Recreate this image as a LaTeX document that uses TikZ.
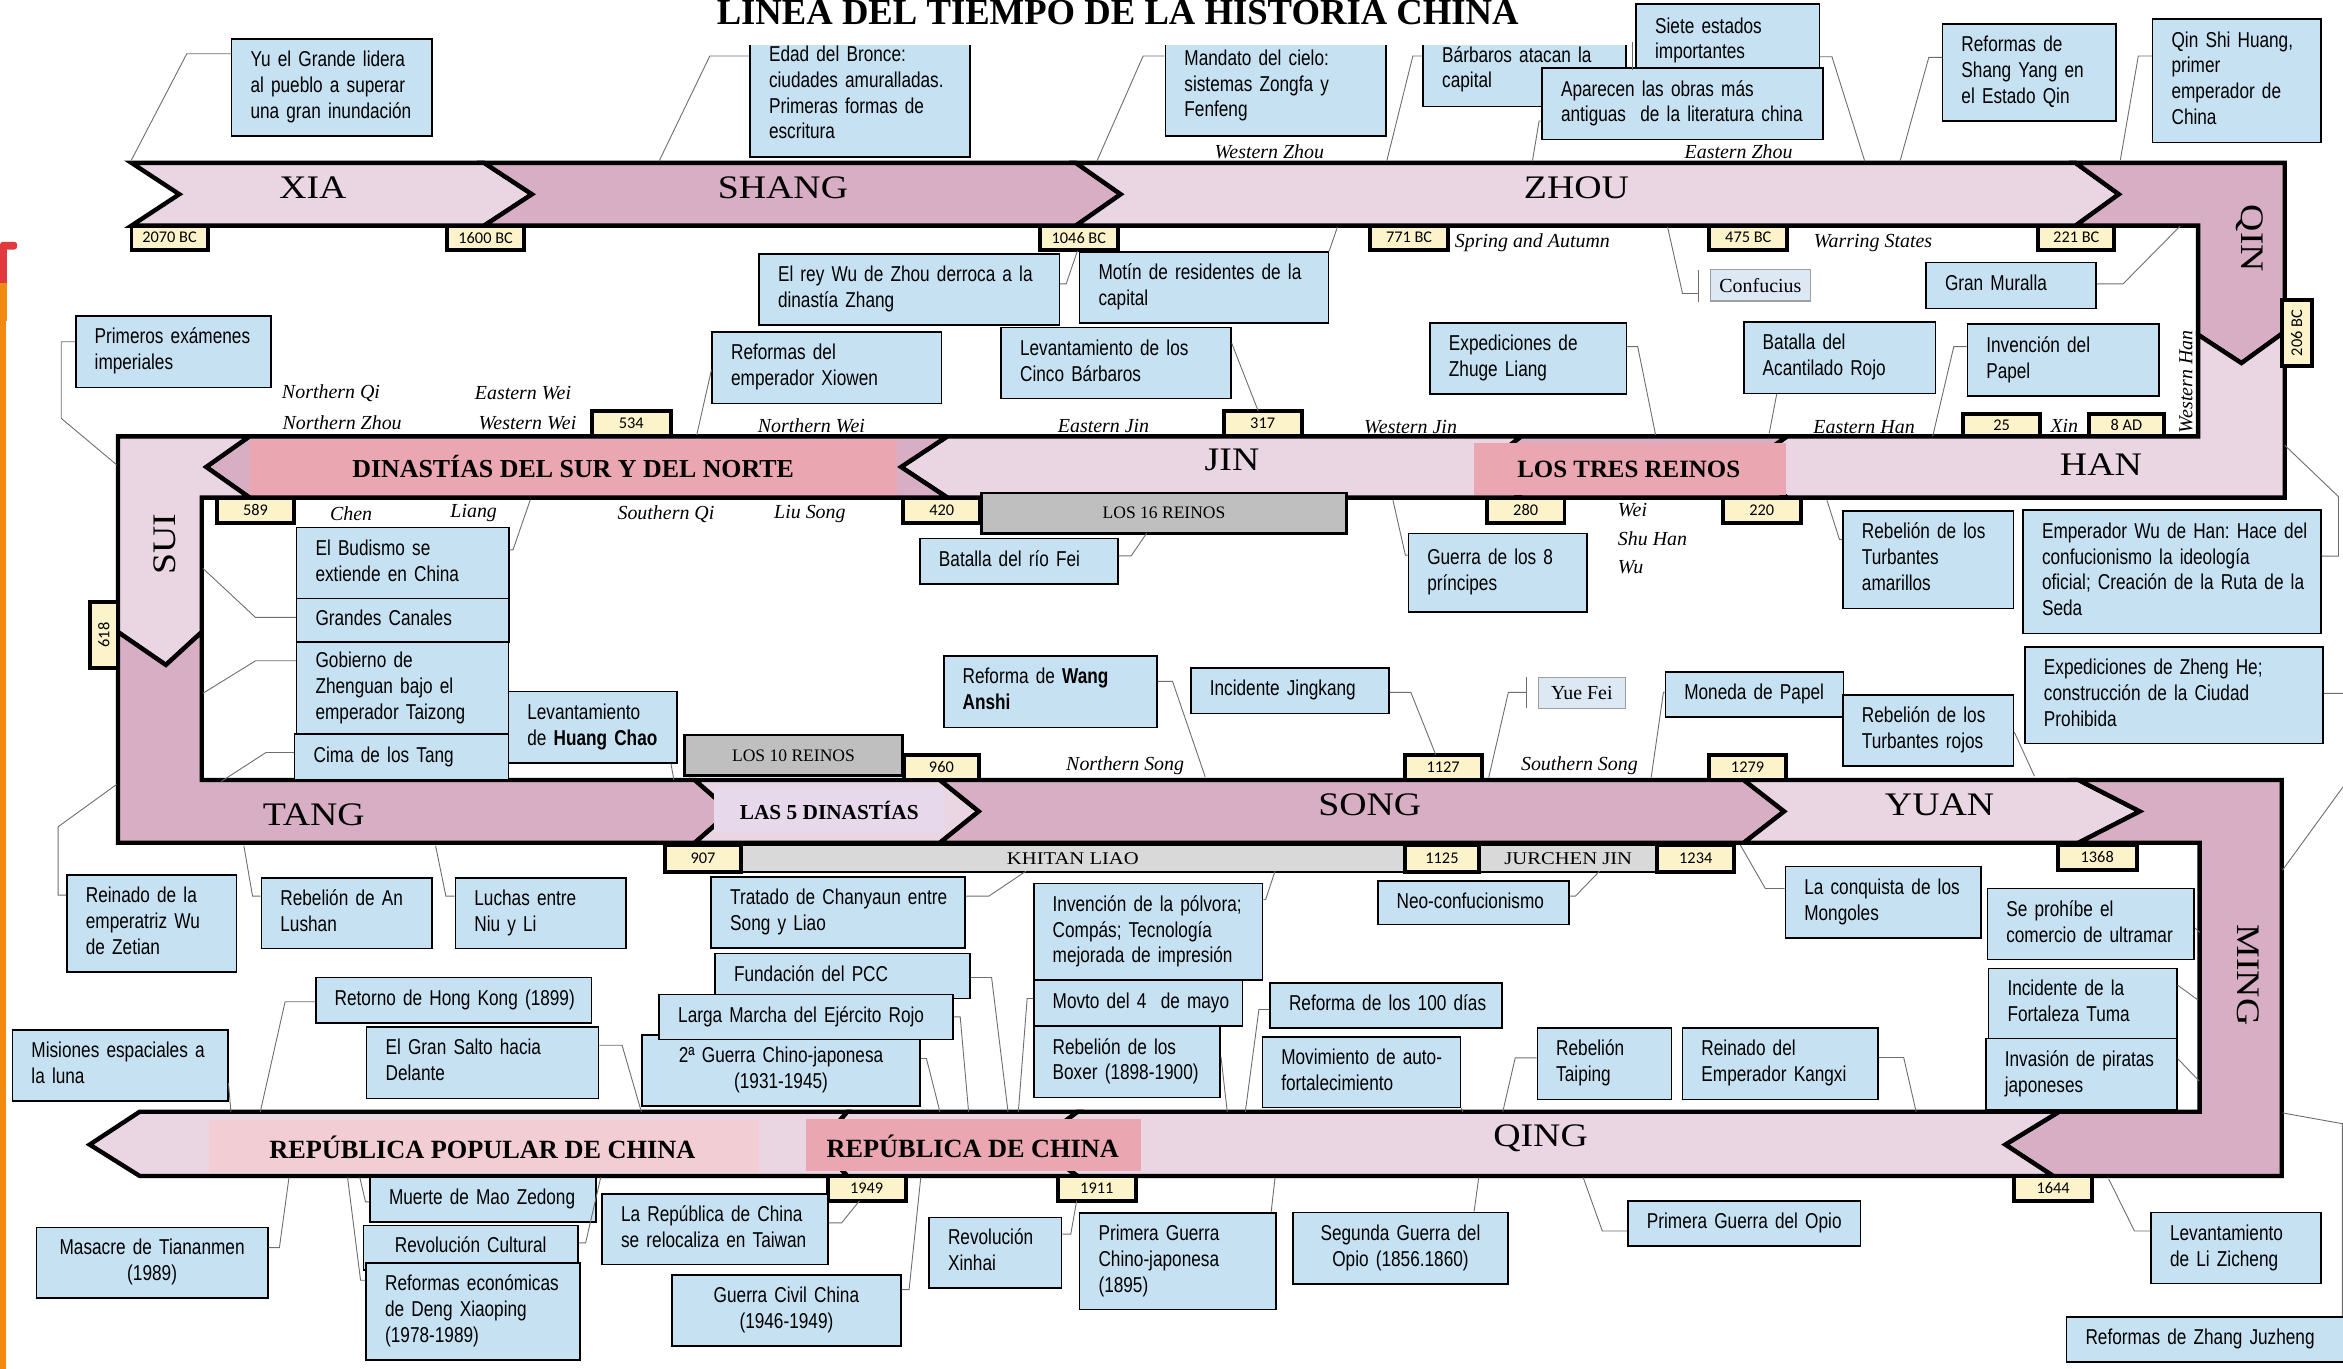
\documentclass[tikz,border=0pt]{standalone}
\usepackage{fontspec}
\usepackage{graphicx}
\setmainfont{Liberation Serif}
\newfontfamily\boxf[FakeStretch=0.8]{Liberation Sans}
\newfontfamily\datef{Carlito}
\newfontfamily\dynf[FakeStretch=1.15]{Liberation Serif}
\frenchspacing
\definecolor{bandlight}{HTML}{EAD6E2}
\definecolor{banddark}{HTML}{D8AEC4}
\definecolor{pinklab}{HTML}{EAA6B1}
\definecolor{pinklight}{HTML}{F2CDD4}
\definecolor{lav}{HTML}{E8D8EC}
\definecolor{evblue}{HTML}{C5E1F2}
\definecolor{paleblue}{HTML}{DDE8F5}
\definecolor{dateyel}{HTML}{FDF3CB}
\definecolor{greyA}{HTML}{BFBFBF}
\definecolor{greyB}{HTML}{D9D9D9}
\definecolor{conn}{HTML}{6E6E6E}
\definecolor{barred}{HTML}{E0393E}
\definecolor{barorange}{HTML}{F28A12}
\tikzset{
 bandL/.style={fill=bandlight, draw=black, line width=2.2pt},
 bandD/.style={fill=banddark, draw=black, line width=2.2pt},
 evbox/.style={draw=black, line width=0.8pt, fill=evblue, inner xsep=9.5pt, inner ysep=0pt, font=\boxf\fontsize{10.8}{13}\selectfont\frenchspacing},
 palebox/.style={draw=gray!75, line width=0.6pt, fill=paleblue, inner sep=0pt, font=\fontsize{10}{12}\selectfont},
 datebox/.style={draw=black, line width=2pt, fill=dateyel, inner sep=0pt, font=\datef\fontsize{8.2}{9}\selectfont},
 greybox/.style={draw=black, line width=1.3pt, fill=greyA, inner sep=0pt, font=\fontsize{8.8}{10}\selectfont},
 barbox/.style={draw=black, line width=1.3pt, fill=greyB, inner sep=0pt, font=\dynf\fontsize{9}{10}\selectfont},
 dyn/.style={font=\dynf\fontsize{16.5}{17}\selectfont, inner sep=0pt},
 boldlab/.style={font=\bfseries\fontsize{13}{14}\selectfont, inner sep=0pt},
 itl/.style={font=\itshape\fontsize{10}{11}\selectfont, inner sep=0pt},
 con/.style={draw=conn, line width=0.45pt},
}
\newcommand\evB[6]{%
 \pgfmathsetmacro\evw{(#4-#2)*0.75}\pgfmathsetmacro\evh{(#5-#3)*0.75}\pgfmathsetmacro\evt{\evw-19}%
 \node[evbox, minimum width=\evw pt, minimum height=\evh pt, text width=\evt pt, align=left] (#1) at ({(#2+#4)/2},{(#3+#5)/2}) {\noindent\begin{tabular}{@{}l@{}}#6\end{tabular}};}
\newcommand\evC[6]{%
 \pgfmathsetmacro\evw{(#4-#2)*0.75}\pgfmathsetmacro\evh{(#5-#3)*0.75}\pgfmathsetmacro\evt{\evw-19}%
 \node[evbox, minimum width=\evw pt, minimum height=\evh pt, text width=\evt pt, align=center] (#1) at ({(#2+#4)/2},{(#3+#5)/2}) {\begin{tabular}{@{}c@{}}#6\end{tabular}};}
\newcommand\rbX[7]{%
 \pgfmathsetmacro\rw{(#5-#3)*0.75}\pgfmathsetmacro\rh{(#6-#4)*0.75}%
 \node[#1, minimum width=\rw pt, minimum height=\rh pt] (#2) at ({(#3+#5)/2},{(#4+#6)/2}) {#7};}
\begin{document}
\begin{tikzpicture}[x=0.75pt,y=-0.75pt]
\useasboundingbox (0,0) rectangle (1568,916);
\fill[white] (0,0) rectangle (1568,916);
\clip (0,0) rectangle (1568,916);
% left edge bar
\fill[barred, rounded corners=1.5] (0,161.8) rectangle (11.5,167);
\fill[barred] (0,165) rectangle (4.6,189.6);
\fill[barorange] (0,189.6) rectangle (5,215);
\fill[barorange] (0,215) rectangle (3.8,916);
% ===== connectors =====
\begin{scope}[con]
\draw (155,36) -- (125,36) -- (88,107);
\end{scope}
% ===== bands =====
\filldraw[bandL] (88,109) -- (324,109) -- (356,130) -- (324,151) -- (88,151) -- (120,130) -- cycle;
\filldraw[bandD] (324,109) -- (720,109) -- (750,130) -- (720,151) -- (324,151) -- (356,130) -- cycle;
\filldraw[bandL] (720,109) -- (1389,109) -- (1418,130) -- (1389,151) -- (720,151) -- (750,130) -- cycle;
\filldraw[bandD] (1389,109) -- (1529,109) -- (1529,222) -- (1500,243) -- (1471,224) -- (1471,151) -- (1389,151) -- (1418,130) -- cycle;
\filldraw[bandL] (1471,224) -- (1500,243) -- (1529,222) -- (1529,333) -- (1196,333) -- (1167,312.5) -- (1196,292) -- (1471,292) -- cycle;
\filldraw[bandD] (1018,292) -- (1196,292) -- (1167,312.5) -- (1196,333) -- (1018,333) -- (992,312.5) -- cycle;
\filldraw[bandL] (634,292) -- (1018,292) -- (992,312.5) -- (1018,333) -- (634,333) -- (603,312.5) -- cycle;
\filldraw[bandD] (167,292) -- (634,292) -- (603,312.5) -- (634,333) -- (167,333) -- (138,312.5) -- cycle;
\filldraw[bandL] (79,292) -- (167,292) -- (138,312.5) -- (167,333) -- (135,333) -- (135,423) -- (111,445) -- (79,423) -- cycle;
\filldraw[bandD] (79,423) -- (111,445) -- (135,423) -- (135,522) -- (465,522) -- (489,543) -- (465,564) -- (79,564) -- cycle;
\filldraw[bandL] (465,522) -- (629,522) -- (655,543) -- (629,564) -- (465,564) -- (489,543) -- cycle;
\filldraw[bandD] (629,522) -- (1167,522) -- (1194,543) -- (1167,564) -- (629,564) -- (655,543) -- cycle;
\filldraw[bandL] (1167,522) -- (1391,522) -- (1432,543) -- (1391,564) -- (1167,564) -- (1194,543) -- cycle;
\filldraw[bandD] (1391,522) -- (1527,522) -- (1527,787) -- (1374,787) -- (1342,766) -- (1378,744) -- (1472,744) -- (1472,564) -- (1391,564) -- (1432,543) -- cycle;
\filldraw[bandL] (721,744) -- (1378,744) -- (1342,766) -- (1374,787) -- (721,787) -- (692,766) -- cycle;
\filldraw[bandL] (567,744) -- (721,744) -- (692,766) -- (721,787) -- (567,787) -- (548,766) -- cycle;
\filldraw[bandL] (93.5,744) -- (567,744) -- (548,766) -- (567,787) -- (93.5,787) -- (60,766) -- cycle;
% overlay rects
\fill[pinklab] (167,294.5) rectangle (600,331.3);
\fill[pinklab] (986.6,296.7) rectangle (1195,331);
\fill[lav] (478,527) rectangle (632,557);
\fill[pinklight] (139.6,749.6) rectangle (508,784.3);
\fill[pinklab] (539.5,749) rectangle (763.5,783.5);
% dynasty labels
\node[dyn] (lxia) at (209.4,125.4) {XIA};
\node[dyn] (lshang) at (524,125.4) {SHANG};
\node[dyn] (lzhou) at (1055,125.4) {ZHOU};
\node[dyn, rotate=-90] (lqin) at (1505.8,159.5) {QIN};
\node[dyn] (lhan) at (1406,311) {HAN};
\node[dyn] (ljin) at (824.5,308) {JIN};
\node[dyn, rotate=90] (lsui) at (110.5,364) {SUI};
\node[dyn] (ltang) at (210,545.5) {TANG};
\node[dyn] (lsong) at (916.7,538.8) {SONG};
\node[dyn] (lyuan) at (1298,538.8) {YUAN};
\node[dyn, rotate=-90] (lming) at (1504.5,652.6) {MING};
\node[dyn] (lqing) at (1031,761.9) {QING};
\node[boldlab] (lsur) at (383.6,312.4) {DINASTÍAS DEL SUR Y DEL NORTE};
\node[boldlab, font=\bfseries\fontsize{12.5}{14}\selectfont] (ltk) at (1090,314.2) {LOS TRES REINOS};
\node[boldlab, font=\bfseries\fontsize{10.7}{12}\selectfont] (l5d) at (555,542.2) {LAS 5 DINASTÍAS};
\node[boldlab, font=\bfseries\fontsize{13.2}{14}\selectfont] (lrpc) at (322.8,767.9) {REPÚBLICA POPULAR DE CHINA};
\node[boldlab, font=\bfseries\fontsize{13.2}{14}\selectfont] (lrc) at (651,767) {REPÚBLICA DE CHINA};
% italic labels
\node[itl] (iwz) at (849.5,101.5) {Western Zhou};
\node[itl] (iez) at (1163.5,101.5) {Eastern Zhou};
\node[itl] (isa) at (1025.5,162.4) {Spring and Autumn};
\node[itl] (iws) at (1253.5,162.8) {Warring States};
\node[itl] (inq) at (221.5,263) {Northern Qi};
\node[itl] (inz) at (229,283) {Northern Zhou};
\node[itl] (iew) at (350,263) {Eastern Wei};
\node[itl] (iww) at (353,283) {Western Wei};
\node[itl] (inw) at (543,285) {Northern Wei};
\node[itl] (iej) at (738.5,285) {Eastern Jin};
\node[itl] (iwj) at (944,285.6) {Western Jin};
\node[itl] (ieh) at (1247.5,285.6) {Eastern Han};
\node[itl] (ixin) at (1381.5,285) {Xin};
\node[itl, rotate=90] (iwh) at (1463,255.5) {Western Han};
\node[itl] (ichen) at (235,343.6) {Chen};
\node[itl] (iliang) at (317,343.6) {Liang};
\node[itl] (isq) at (445.7,344) {Southern Qi};
\node[itl] (ils) at (542,344) {Liu Song};
\node[itl, anchor=west] (iwei) at (1082.5,341.4) {Wei};
\node[itl, anchor=west] (ishu) at (1082.5,360.3) {Shu Han};
\node[itl, anchor=west] (iwu) at (1082.5,379.3) {Wu};
\node[itl] (ins) at (753,512.7) {Northern Song};
\node[itl] (iss) at (1057,512.4) {Southern Song};
% grey bars
\rbX{greybox}{g16}{657}{330}{901}{357}{LOS 16 REINOS}
\rbX{greybox}{g10}{458}{492}{604}{519}{LOS 10 REINOS}
\rbX{barbox}{gkl}{496}{565.6}{940}{583.5}{KHITAN LIAO}
\rbX{barbox}{gjj}{990}{565.6}{1109}{583.5}{JURCHEN JIN}
% date boxes
\rbX{datebox}{d2070}{88}{151}{139}{167}{2070 BC}
\rbX{datebox}{d1600}{299}{151}{351}{167}{1600 BC}
\rbX{datebox}{d1046}{696}{151}{748}{167}{1046 BC}
\rbX{datebox}{d771}{917}{151}{969}{167}{771 BC}
\rbX{datebox}{d475}{1144}{151}{1196}{167}{475 BC}
\rbX{datebox}{d221}{1364}{151}{1415}{167}{221 BC}
\rbX{datebox}{d206}{1527}{201}{1547}{245}{\rotatebox{90}{206 BC}}
\rbX{datebox}{d534}{396}{275}{449}{292}{534}
\rbX{datebox}{d317}{819}{275}{871}{292}{317}
\rbX{datebox}{d25}{1314}{277}{1365}{292}{25}
\rbX{datebox}{d8}{1398}{277}{1448}{292}{8 AD}
\rbX{datebox}{d589}{145}{333}{197}{350}{589}
\rbX{datebox}{d420}{604.5}{333}{656}{350}{420}
\rbX{datebox}{d280}{995}{333}{1047}{350}{280}
\rbX{datebox}{d220}{1153}{333}{1205}{350}{220}
\rbX{datebox}{d618}{60}{403}{79}{447}{\rotatebox{90}{618}}
\rbX{datebox}{d960}{605}{505}{655}{522}{960}
\rbX{datebox}{d1127}{940}{505}{991.5}{522}{1127}
\rbX{datebox}{d1279}{1144}{505}{1195}{522}{1279}
\rbX{datebox}{d907}{445}{565.6}{496}{583.5}{907}
\rbX{datebox}{d1125}{940}{565.6}{990}{583.5}{1125}
\rbX{datebox}{d1234}{1109}{565.6}{1160.7}{583.5}{1234}
\rbX{datebox}{d1368}{1377}{565.6}{1430}{582}{1368}
\rbX{datebox}{d1949}{554}{787}{606}{803.6}{1949}
\rbX{datebox}{d1911}{708}{787}{760}{803.6}{1911}
\rbX{datebox}{d1644}{1348}{787}{1400}{803.6}{1644}
% ===== event boxes =====
\evB{b1}{155}{26}{289}{91}{Yu el Grande lidera\\al pueblo a superar\\una gran inundación}
\evB{b2}{502}{22}{649}{105}{Edad del Bronce:\\ciudades amuralladas.\\Primeras formas de\\escritura}
\evB{b3}{780}{24}{927.6}{91}{Mandato del cielo:\\sistemas Zongfa y\\Fenfeng}
\evB{b4}{952.5}{22}{1088}{71.4}{Bárbaros atacan la\\capital}
\evB{b5}{1095}{2.7}{1217.6}{52}{Siete estados\\importantes}
\evB{b6}{1032}{45.7}{1220}{93.3}{Aparecen las obras más\\antiguas\ \ de la literatura china}
\evB{b7}{1300}{16}{1416}{80.8}{Reformas de\\Shang Yang en\\el Estado Qin}
\evB{b8}{1440.6}{12.7}{1553.4}{95.3}{Qin Shi Huang,\\primer\\emperador de\\China}
\evB{b9}{508}{170}{709}{217.5}{El rey Wu de Zhou derroca a la\\dinastía Zhang}
\evB{b10}{722.5}{168.5}{889}{216}{Motín de residentes de la\\capital}
\evB{b11}{476.6}{222}{630}{270}{Reformas del\\emperador Xiowen}
\evB{b12}{670}{219.3}{823.8}{266.6}{Levantamiento de los\\Cinco Bárbaros}
\rbX{palebox}{b13}{1144.6}{180.3}{1211.6}{201.5}{Confucius}
\evB{b14}{1289}{175.8}{1402.8}{206.4}{Gran Muralla}
\evB{b15}{957}{216}{1088.4}{263.7}{Expediciones de\\Zhuge Liang}
\evB{b16}{1167}{215.3}{1295.4}{263.3}{Batalla del\\Acantilado Rojo}
\evB{b17}{1316.6}{216.9}{1444.7}{265}{Invención del\\Papel}
\evB{b18}{50.7}{211.5}{181.4}{259.3}{Primeros exámenes\\imperiales}
\evB{b19}{198.5}{352.9}{340.7}{400.5}{El Budismo se\\extiende en China}
\evB{b20}{198.5}{400.5}{340.7}{429.5}{Grandes Canales}
\evB{b21}{198.5}{429.5}{340.2}{491.3}{Gobierno de\\Zhenguan bajo el\\emperador Taizong}
\evB{b22}{197.2}{491.3}{340.2}{522.1}{Cima de los Tang}
\evB{b23}{340.2}{462.9}{453}{510.5}{Levantamiento\\de \textbf{Huang Chao}}
\evB{b24}{615.7}{360.3}{748}{391}{Batalla del río Fei}
\evB{b25}{942.5}{357}{1062}{409.4}{Guerra de los 8\\príncipes}
\evB{b26}{1233.4}{341.8}{1347.4}{407.2}{Rebelión de los\\Turbantes\\amarillos}
\evB{b27}{1353.9}{341.4}{1553.3}{424}{Emperador Wu de Han: Hace del\\confucionismo la ideología\\oficial; Creación de la Ruta de la\\Seda}
\evB{b28}{631.6}{439}{774.2}{486.8}{Reforma de \textbf{Wang}\\\textbf{Anshi}}
\evB{b29}{797}{446.9}{929.4}{477.4}{Incidente Jingkang}
\rbX{palebox}{b30}{1029.5}{453.4}{1087.7}{474}{Yue Fei}
\evB{b31}{1114.5}{449.6}{1233.6}{480}{Moneda de Papel}
\evB{b32}{1233.4}{465}{1347.4}{512.7}{Rebelión de los\\Turbantes rojos}
\evB{b33}{1355.2}{432.8}{1554.7}{497.5}{Expediciones de Zheng He;\\construcción de la Ciudad\\Prohibida}
\evB{b34}{44.8}{585.7}{158.3}{650.4}{Reinado de la\\emperatriz Wu\\de Zetian}
\evB{b35}{175}{587.7}{289}{634.8}{Rebelión de An\\Lushan}
\evB{b36}{304.8}{587.7}{419}{634.8}{Luchas entre\\Niu y Li}
\evB{b37}{476}{586.9}{645.6}{634.3}{Tratado de Chanyaun entre\\Song y Liao}
\evB{b38}{691.8}{591.2}{845}{656}{Invención de la pólvora;\\Compás; Tecnología\\mejorada de impresión}
\evB{b39}{922}{589.7}{1050}{618.7}{Neo-confucionismo}
\evB{b40}{1194.8}{580}{1325.6}{627.6}{La conquista de los\\Mongoles}
\evB{b41}{1330}{594.6}{1468.4}{642.1}{Se prohíbe el\\comercio de ultramar}
\evB{b42}{1330.8}{648.1}{1456.8}{695}{Incidente de la\\Fortaleza Tuma}
\evB{b43}{1329}{695}{1456.8}{743}{Invasión de piratas\\japoneses}
\evB{b44}{211.3}{654.3}{395.8}{684.5}{Retorno de Hong Kong (1899)}
\evB{b45}{8.4}{689.4}{152.4}{737}{Misiones espaciales a\\la luna}
\evB{b46}{245.4}{687.2}{400.5}{735.2}{El Gran Salto hacia\\Delante}
\evB{b47}{478.6}{638}{649}{668.2}{Fundación del PCC}
\evC{b49}{429.7}{692.7}{615.7}{740.3}{2ª Guerra Chino-japonesa\\(1931-1945)}
\evB{b48}{441.2}{665.5}{637.9}{695.6}{Larga Marcha del Ejército Rojo}
\evB{b50}{691.8}{656}{831.4}{686.7}{Movto del 4\ \ de mayo}
\evB{b51}{691.8}{686.7}{816.6}{734.5}{Rebelión de los\\Boxer (1898-1900)}
\evB{b52}{850}{658}{1005}{687.8}{Reforma de los 100 días}
\evB{b53}{844.8}{693.9}{977.5}{741.2}{Movimiento de auto-\\fortalecimiento}
\evB{b54}{1028.8}{687.9}{1118.5}{735.9}{Rebelión\\Taiping}
\evB{b55}{1126}{687.9}{1256.8}{735.9}{Reinado del\\Emperador Kangxi}
\evB{b56}{247.7}{788.1}{398.8}{817.7}{Muerte de Mao Zedong}
\evC{b57}{243.3}{820}{386.8}{850}{Revolución Cultural}
\evB{b58}{245.1}{845.1}{388.1}{910}{Reformas económicas\\de Deng Xiaoping\\(1978-1989)}
\evC{b59}{24.3}{821.5}{179.3}{868.6}{Masacre de Tiananmen\\(1989)}
\evB{b60}{403}{799.2}{554.2}{846.3}{La República de China\\se relocaliza en Taiwan}
\evC{b61}{449.7}{853.4}{602.9}{900.9}{Guerra Civil China\\(1946-1949)}
\evB{b62}{621.8}{814.8}{710.4}{861.9}{Revolución\\Xinhai}
\evB{b63}{722.5}{811.6}{853.8}{876.4}{Primera Guerra\\Chino-japonesa\\(1895)}
\evC{b64}{865.5}{811.4}{1009}{859.4}{Segunda Guerra del\\Opio (1856.1860)}
\evB{b65}{1089.5}{803.6}{1245}{833.8}{Primera Guerra del Opio}
\evB{b66}{1439.6}{811.4}{1553.3}{858.9}{Levantamiento\\de Li Zicheng}
\evB{b67}{1383}{881.3}{1575}{911.4}{Reformas de Zhang Juzheng}
% ===== connectors =====
\begin{scope}[con]
\draw (b2.west|-0,37.5) -- (475,37.5) -- (441,108);
\draw (b3.west|-0,37.5) -- (765,37.5) -- (734,108);
\draw (b4.west|-0,37.5) -- (945.5,37.5) -- (928,108);
\draw (b5.east|-0,38) -- (1226,38) -- (1248,108);
\draw (1092.5,28) -- (1092.5,47);
\draw (b6.west|-0,81) -- (1030,81) -- (1025.5,108);
\draw (b7.west|-0,38.4) -- (1290.8,38.4) -- (1271.5,108);
\draw (b8.west|-0,37.5) -- (1431,37.5) -- (1419,107);
\draw (b9.east|-0,190) -- (713.5,190) -- (721,168);
\draw (b10.north east) -- (895,152);
\draw (b11.west|-0,247.7) -- (466.3,291);
\draw (b12.east|-0,229.8) -- (842,275);
\draw (1116,152) -- (1126,196.4) -- (1136.4,196.4);
\draw (1136.4,180.7) -- (1136.4,202);
\draw (b14.east|-0,190) -- (1420.8,190) -- (1459,151.3);
\draw (b15.east|-0,232) -- (1096,232) -- (1108,291.2);
\draw (b16.south-|1189,0) -- (1184,290);
\draw (b17.west|-0,232) -- (1307.5,232) -- (1293.4,292);
\draw (b18.west|-0,228.7) -- (41,228.7) -- (41,280) -- (78,311);
\draw (b19.east|-0,368) -- (343.3,368) -- (354.8,334.7);
\draw (b20.west|-0,413.2) -- (171,413.2) -- (135.8,380.4);
\draw (b21.west|-0,442.2) -- (171,442.2) -- (135.8,464);
\draw (b22.west|-0,503.6) -- (178,503.6) -- (148,523);
\draw (b23.south-|449,0) -- (451,522);
\draw (b24.east|-0,372) -- (757,372) -- (767.3,357);
\draw (b25.west|-0,371.5) -- (940.5,371.5) -- (932.2,334.7);
\draw (b26.west|-0,361) -- (1231,361) -- (1222.6,334.7);
\draw (b27.east|-0,372.2) -- (1565,372.2) -- (1565,332.4) -- (1529,298);
\draw (b28.east|-0,456) -- (784.7,456) -- (806.6,520);
\draw (b29.east|-0,463.4) -- (944.2,463.4) -- (960.8,505);
\draw (996.3,520.3) -- (1009.4,463.4) -- (1021.8,463.4);
\draw (1021.8,453.4) -- (1021.8,474);
\draw (b31.west|-0,463.4) -- (1113.2,463.4) -- (1105,520.3);
\draw (b32.east|-0,489.8) -- (1361.5,519.4);
\draw (b33.east|-0,464) -- (1575,464) -- (1575,517) -- (1527.5,582.3);
\draw (b34.west|-0,599) -- (38.9,599) -- (38.9,553.3) -- (78,525);
\draw (b35.west|-0,599.7) -- (169,599.7) -- (163.2,566);
\draw (b36.west|-0,599.7) -- (298.4,599.7) -- (291.5,566);
\draw (b37.east|-0,599.7) -- (661.8,599.7) -- (686.6,583);
\draw (b38.east|-0,602) -- (847,602) -- (853.3,583);
\draw (b39.east|-0,599.7) -- (1054.3,599.7) -- (1070.5,583);
\draw (b40.west|-0,594.6) -- (1181.4,594.6) -- (1164.7,565.6);
\draw (b41.east|-0,621) -- (1472,624);
\draw (b42.east|-0,659.3) -- (1471,669.3);
\draw (b43.east|-0,708.4) -- (1471.6,723.3);
\draw (b44.west|-0,670.4) -- (190.8,670.4) -- (174.2,744);
\draw (b45.east|-0,725) -- (154.5,744);
\draw (b46.east|-0,699.5) -- (416.3,699.5) -- (429.2,744);
\draw (b47.east|-0,654.2) -- (663.6,654.2) -- (674.6,744);
\draw (b48.east|-0,680.5) -- (642.6,680.5) -- (648.2,744);
\draw (b49.east|-0,708.4) -- (620,708.4) -- (629,744);
\draw (b50.west|-0,668.2) -- (687.4,668.2) -- (681.5,744);
\draw (b51.east|-0,707.3) -- (821.3,744);
\draw (b52.west|-0,675.6) -- (842.5,675.6) -- (833.4,744);
\draw (b53.south east) -- (979,744);
\draw (b54.west|-0,708) -- (1014,708) -- (1005.7,744);
\draw (b55.east|-0,707.7) -- (1274,707.7) -- (1282.3,744);
\draw (b56.west|-0,804.3) -- (244.6,804.3) -- (240.8,788);
\draw (b57.east|-0,831.8) -- (391.9,831.8) -- (402,788);
\draw (b58.west|-0,856.8) -- (241.3,856.8) -- (232.6,788);
\draw (b59.east|-0,834.9) -- (187,834.9) -- (193.4,788);
\draw (b60.east|-0,818.4) -- (563.2,818.4) -- (575.2,803.6);
\draw (b61.east|-0,863) -- (608.4,863) -- (616.2,788);
\draw (b62.east|-0,825.9) -- (716.6,825.9) -- (720.5,803.6);
\draw (b63.north-|850.7,0) -- (853.3,788);
\draw (b64.north-|986.5,0) -- (989.6,788);
\draw (b65.west|-0,823.8) -- (1072.3,823.8) -- (1059.5,788);
\draw (b66.west|-0,823.8) -- (1428.4,823.8) -- (1411.2,789);
\draw (b67.north-|1567.6,0) -- (1567.6,752) -- (1527.5,744.8);
\end{scope}
% title
\fill[white] (455,0) rectangle (1092,30);
\node[font=\bfseries\fontsize{18.4}{20}\selectfont, anchor=base, inner sep=0pt] (title) at (748,16.7) {LINEA DEL TIEMPO DE LA HISTORIA CHINA};
\end{tikzpicture}
\end{document}
